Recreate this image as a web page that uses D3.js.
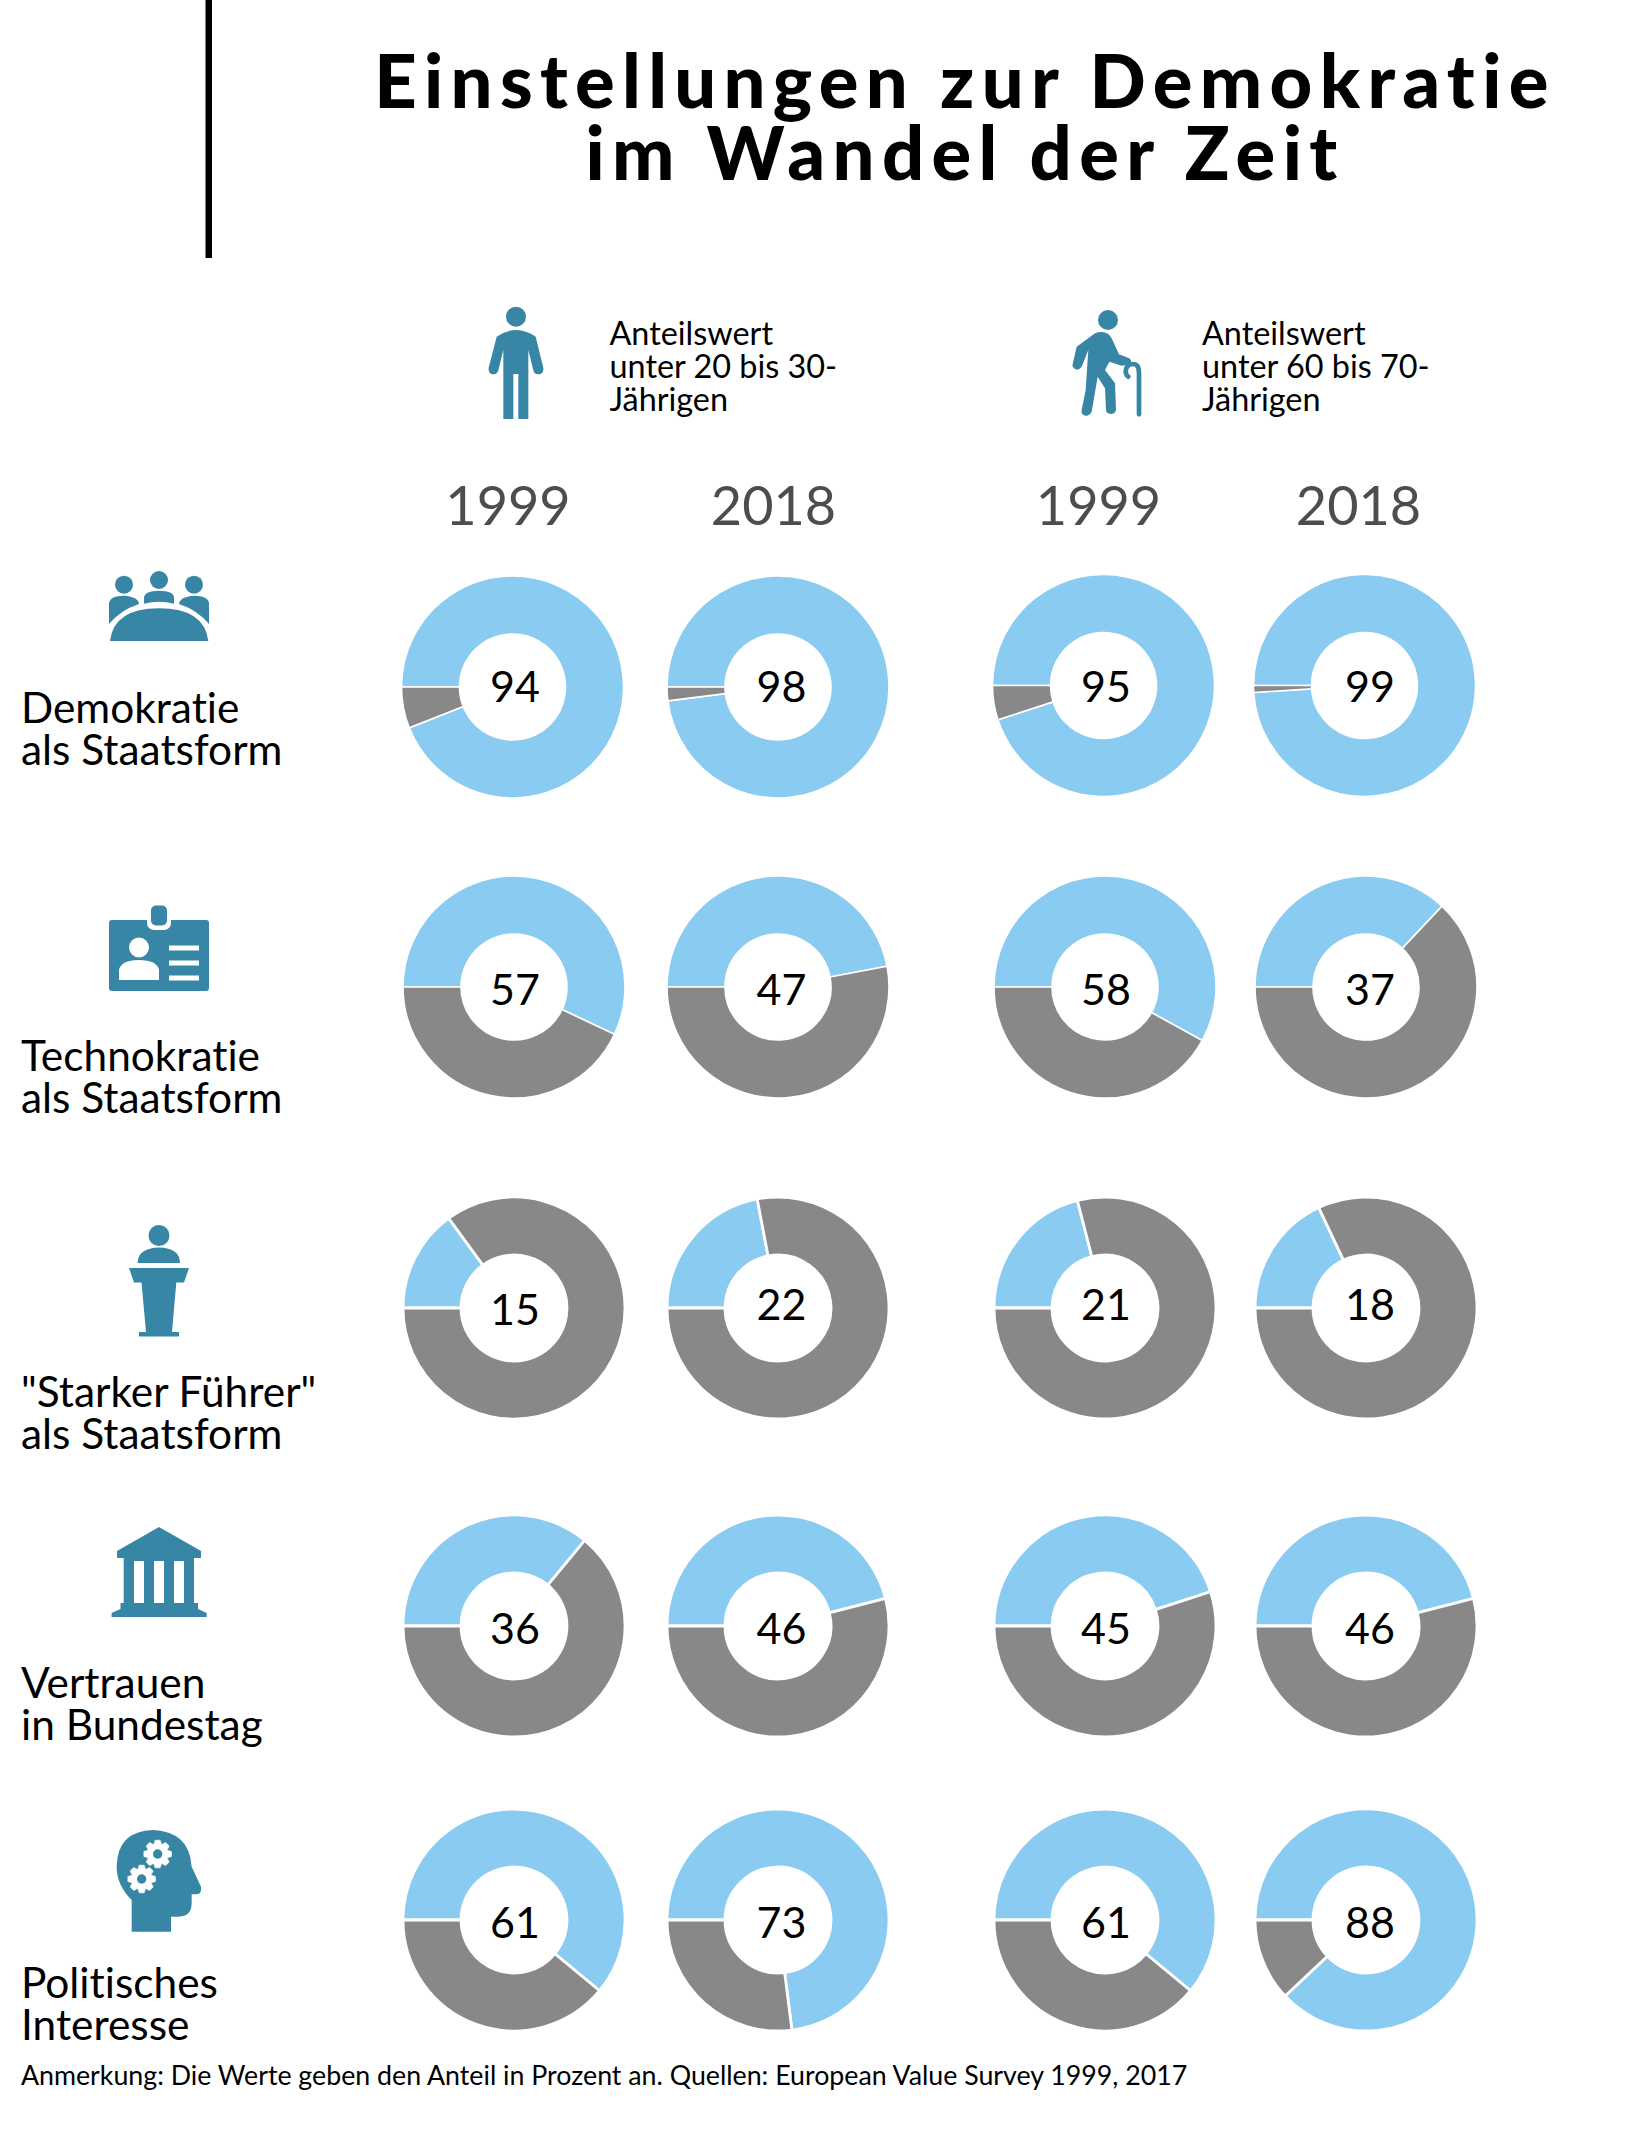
<!DOCTYPE html>
<html><head><meta charset="utf-8">
<script src="https://cdn.jsdelivr.net/npm/d3@7"></script>
<style>html,body{margin:0;padding:0;background:#fff}svg{display:block}text{font-family:Lato,sans-serif;font-variant-ligatures:none}</style>
</head><body><svg id="c" width="1650" height="2154"></svg>
<script>
const titleLines = ["Einstellungen zur Demokratie","im Wandel der Zeit"];
const years = ["1999","2018","1999","2018"];
const columns = ["young1999","young2018","old1999","old2018"];
const rows = ["demokratie","technokratie","fuehrer","bundestag","interesse"];
const rowLabels = [["Demokratie","als Staatsform"],["Technokratie","als Staatsform"],["\"Starker Führer\"","als Staatsform"],["Vertrauen","in Bundestag"],["Politisches","Interesse"]];
const young1999 = [94,57,15,36,61];
const young2018 = [98,47,22,46,73];
const old1999 = [95,58,21,45,61];
const old2018 = [99,37,18,46,88];
const series = {young1999,young2018,old1999,old2018};
const legendLines = [["Anteilswert","unter 20 bis 30-","Jährigen"],["Anteilswert","unter 60 bis 70-","Jährigen"]];
const note = "Anmerkung: Die Werte geben den Anteil in Prozent an. Quellen: European Value Survey 1999, 2017";

const BLUE="#89cbf1", GREY="#888888", TEAL="#3786a6";
const svg = d3.select("#c");
const colX = d3.scaleOrdinal(columns,[514,778,1105,1366]);
const rowY = d3.scaleOrdinal(rows,[687,987,1308,1626,1920]);
const labelX = d3.scaleOrdinal(columns,[515,781.5,1106,1370]);
const labelY = d3.scaleOrdinal(rows,[686,989,1304,1628,1922.5]);
const yearX = d3.scaleOrdinal(columns,[508,773.5,1098.5,1358.5]);
const textY = d3.scaleOrdinal(rows,[723,1070.5,1406.5,1698,1998]);
const sepW = d3.scaleOrdinal(rows,[1.6,1.6,2.8,2.8,2.8]);
const arc = d3.arc().innerRadius(53).outerRadius(111);
const pie = d3.pie().sort(null).value(d=>d.v).startAngle(-Math.PI/2).endAngle(Math.PI*1.5);

// decoration
svg.append("rect").attr("x",205.5).attr("y",0).attr("width",6.5).attr("height",258).attr("fill","#000");
svg.append("g").selectAll("text").data(titleLines).join("text")
  .attr("x",965).attr("y",(d,i)=>108+i*72).attr("text-anchor","middle")
  .attr("font-size",74).attr("font-weight",900).attr("letter-spacing",7.35).attr("fill","#000").text(d=>d);

// legend
legendLines.forEach((ls,k)=>{
  svg.append("g").selectAll("text").data(ls).join("text")
    .attr("x",k?1202:609.5).attr("y",(d,i)=>345+i*33).attr("font-size",32.4).attr("fill","#000").text(d=>d);
});
svg.append("g").selectAll("text").data(columns).join("text")
  .attr("x",d=>yearX(d)).attr("y",525).attr("text-anchor","middle").attr("font-size",54).attr("fill","#4d4d4d")
  .text((d,i)=>years[i]);

// donuts
rows.forEach((r,ri)=>{
  columns.forEach((c,ci)=>{
    const v = series[c][ri];
    const dx = ri===0&&ci!==1 ? -1.5 : 0, dy = ri===0&&ci>1 ? -1.5 : 0;
    const g = svg.append("g").attr("transform",`translate(${colX(c)+dx},${rowY(r)+dy})`);
    g.selectAll("path").data(pie([{k:"ja",v},{k:"nein",v:100-v}])).join("path")
      .attr("d",arc).attr("fill",d=>d.data.k==="ja"?BLUE:GREY).attr("stroke","#fff").attr("stroke-width",sepW(r));
    svg.append("text").attr("x",labelX(c)).attr("y",labelY(r)+(ri===2&&ci===0?5:0)+15.5)
      .attr("text-anchor","middle").attr("font-size",43).attr("fill","#000").text(v);
  });
  svg.append("g").selectAll("text").data(rowLabels[ri]).join("text")
    .attr("x",21).attr("y",(d,i)=>textY(r)+i*42).attr("font-size",42.4).attr("fill","#000").text(d=>d);
});
svg.append("text").attr("x",21).attr("y",2085).attr("font-size",26.75).attr("fill","#000").text(note);

// icons
function icon(x,y,s){return svg.append("g").attr("transform",`translate(${x},${y}) scale(${s})`).attr("fill",TEAL);}
// person
let p=icon(470,295,1/3);
p.append("circle").attr("cx",138).attr("cy",65).attr("r",30);
p.append("path").attr("d","M80,125 Q138,85 197,125 L220,218 Q222,238 205,238 Q192,238 190,226 L175,165 V372 H145 V237 H130 V372 H100 V165 L85,226 Q82,238 70,238 Q54,238 56,218 Z");
// old person
p=icon(1050,295,1/3);
p.append("circle").attr("cx",174).attr("cy",75).attr("r",30);
p.append("path").attr("d","M80,155 L135,115 Q170,103 185,130 L207,178 L238,190 Q248,200 240,208 L215,212 L178,200 L165,225 L195,265 L198,345 Q195,357 182,357 Q168,355 168,345 L165,280 L143,245 L125,350 Q118,364 105,362 Q92,358 95,345 L107,285 L115,165 L95,215 Q85,228 75,222 Q65,215 68,208 Z");
p.append("path").attr("d","M235,245 C222,235 225,207 250,207 C265,207 267,222 267,235 V358").attr("fill","none").attr("stroke",TEAL).attr("stroke-width",14).attr("stroke-linecap","round");
// group
p=icon(90,560,1/3);
[[102,74],[207,60],[312,74]].forEach(h=>p.append("circle").attr("cx",h[0]).attr("cy",h[1]).attr("r",27));
p.append("path").attr("d","M57,192 V130 Q60,107 102,107 Q145,110 147,132 Q92,150 57,192Z");
p.append("path").attr("d","M162,131 V112 Q165,92 207,92 Q250,92 252,112 V131 Q207,120 162,131Z");
p.append("path").attr("d","M357,192 V130 Q354,107 312,107 Q269,110 267,132 Q322,150 357,192Z");
p.append("path").attr("d","M60,243 Q72,145 207,145 Q343,145 355,243Z");
// card
p=icon(0,0,1);
p.append("rect").attr("x",109).attr("y",920).attr("width",100).attr("height",71).attr("rx",3);
p.append("rect").attr("x",147).attr("y",905).attr("width",24).attr("height",25).attr("rx",7).attr("fill","#fff");
p.append("rect").attr("x",151).attr("y",905.5).attr("width",16).attr("height",20).attr("rx",5);
p.append("ellipse").attr("cx",139).attr("cy",947.5).attr("rx",10).attr("ry",10).attr("fill","#fff");
p.append("path").attr("d","M119,980 V970 Q121,960 139,960 Q157,960 159,970 V980Z").attr("fill","#fff");
[948,963,978].forEach(y=>p.append("rect").attr("x",169).attr("y",y-2.5).attr("width",30).attr("height",5).attr("fill","#fff"));
// podium
p=icon(0,0,1);
p.append("circle").attr("cx",159).attr("cy",1235.5).attr("r",10.5);
p.append("path").attr("d","M137.5,1263 Q138,1248 159,1247.5 Q180,1248 180,1263Z");
p.append("path").attr("d","M129,1268 H189 L184,1282.5 H176.3 L172,1332 H179 V1336.5 H139 V1332 H146 L141.5,1282.5 H134Z");
// building
p=icon(0,0,1);
p.append("path").attr("d","M159,1527 L201,1551 V1558 H194 V1603 H198 V1609 L206.7,1613 V1617 H111.6 V1613 L120.5,1609 V1603 H123.7 V1558 H117 V1551Z");
[134,154,174].forEach(x=>p.append("rect").attr("x",x).attr("y",1561).attr("width",10).attr("height",42).attr("fill","#fff"));
// head
p=icon(100,1835,1/3);
p.append("path").attr("d","M95,290 V195 Q50,150 50,95 Q52,-12 160,-15 Q268,-10 275,95 L303,155 Q307,178 285,178 H275 V205 Q275,245 235,245 H213 V290Z");
[[173,57],[125,132]].forEach(c=>{
  let d="";const n=8;
  for(let i=0;i<n;i++){
    const a=i/n*2*Math.PI, w=Math.PI/n;
    const pts=[[31,a-w*0.95],[42,a-w*0.45],[42,a+w*0.45],[31,a+w*0.95]];
    pts.forEach((q,j)=>{d+=(i===0&&j===0?"M":"L")+(c[0]+q[0]*Math.sin(q[1])).toFixed(1)+","+(c[1]-q[0]*Math.cos(q[1])).toFixed(1);});
  }
  p.append("path").attr("d",d+"Z").attr("fill","#fff").attr("stroke","#fff").attr("stroke-width",2).attr("stroke-linejoin","round");
  p.append("circle").attr("cx",c[0]).attr("cy",c[1]).attr("r",14);
});
</script></body></html>
